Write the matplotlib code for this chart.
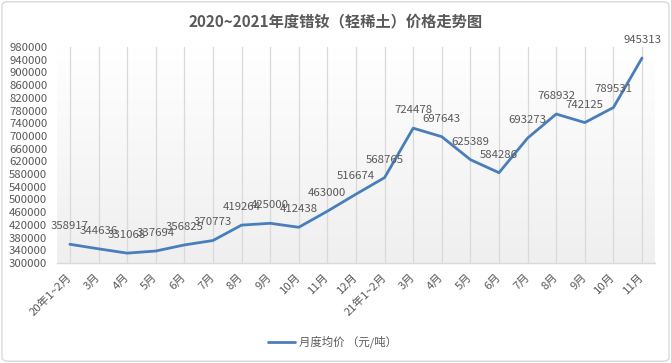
import numpy as np
import matplotlib
matplotlib.use('Agg')
import matplotlib.pyplot as plt
from matplotlib.colors import LinearSegmentedColormap
from matplotlib.patches import FancyBboxPatch

plt.rcParams['font.family'] = ['Noto Sans CJK SC', 'DejaVu Sans']

# 月份标签
months = ['20年1~2月', '3月', '4月', '5月', '6月', '7月', '8月', '9月', '10月', '11月', '12月',
          '21年1~2月', '3月', '4月', '5月', '6月', '7月', '8月', '9月', '10月', '11月']
# 月度均价（元/吨）
prices = [358917, 344636, 331068, 337694, 356825, 370773, 419264, 425000, 412438, 463000, 516674,
          568765, 724478, 697643, 625389, 584286, 693273, 768932, 742125, 789531, 945313]
yticks = list(range(300000, 980001, 40000))

text_color = '#595959'
line_color = '#4a7ebb'
fs = 8.2

fig = plt.figure(figsize=(6.71, 3.63), dpi=100)
ax = fig.add_axes([0.085, 0.2755, 0.891, 0.595])

# plot area gradient background
cmap = LinearSegmentedColormap.from_list('bg', ['#ffffff', '#efefef'])
grad = np.linspace(0, 1, 256).reshape(-1, 1)
ax.imshow(grad, cmap=cmap, extent=[0, 1, 0, 1], transform=ax.transAxes,
          aspect='auto', zorder=0)

x = np.arange(len(months))
for xi in x:
    ax.axvline(xi, color='#d9d9d9', lw=0.9, zorder=1)

ax.plot(x, prices, color=line_color, lw=2.0, zorder=3, label='月度均价 （元/吨）',
        solid_capstyle='round', solid_joinstyle='round')

for xi, v in zip(x, prices):
    ax.annotate(str(v), (xi, v), xytext=(0, 13), textcoords='offset points',
                ha='center', va='center', fontsize=fs, color=text_color, zorder=4)

ax.set_xlim(-0.45, 20.45)
ax.set_ylim(300000, 980000)
ax.set_yticks(yticks)
ax.set_yticklabels([str(t) for t in yticks])
ax.set_xticks(x)
ax.set_xticklabels(months, rotation=45, ha='right', va='center', rotation_mode='anchor')
ax.tick_params(axis='y', length=0, pad=7, labelsize=fs, labelcolor=text_color)
ax.tick_params(axis='x', length=0, pad=9, labelsize=fs, labelcolor=text_color)

for side in ['top', 'right', 'left']:
    ax.spines[side].set_visible(False)
ax.spines['bottom'].set_color('#d9d9d9')
ax.spines['bottom'].set_linewidth(1.0)

fig.text(0.5, 0.94, '2020~2021年度错钕（轻稀土）价格走势图', ha='center', va='center',
         fontsize=11, fontweight='bold', color=text_color)

fig.legend(loc='center', bbox_to_anchor=(0.495, 0.058), frameon=False, fontsize=fs,
           handlelength=2.4, handletextpad=0.3, labelcolor=text_color)

# outer chart border
border = FancyBboxPatch((0.003, 0.005), 0.994, 0.99, boxstyle='round,pad=0,rounding_size=0.01',
                        transform=fig.transFigure, fill=False, edgecolor='#d9d9d9', lw=1.0)
fig.patches.append(border)

fig.savefig('out.png', dpi=100)
